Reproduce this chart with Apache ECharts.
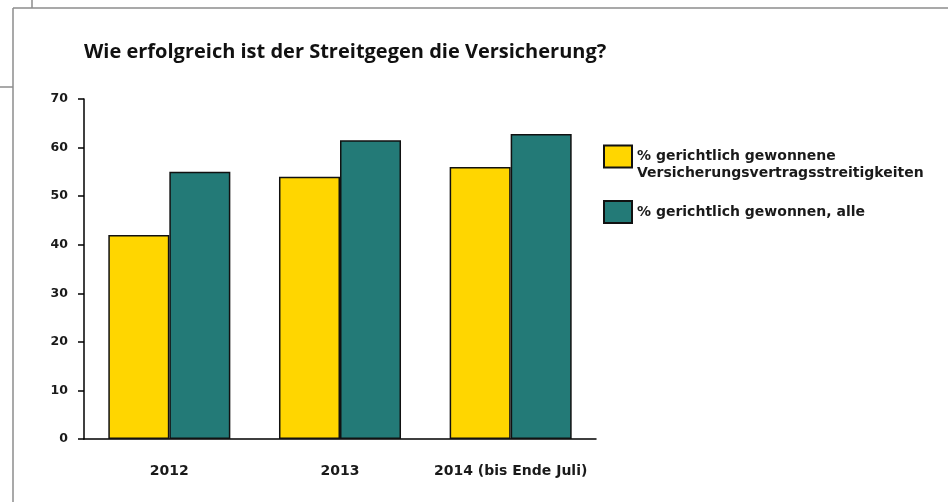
<!DOCTYPE html>
<html>
<head>
<meta charset="utf-8">
<script src="https://cdn.jsdelivr.net/npm/echarts@6/dist/echarts.min.js"></script>
<style>
  html, body { margin: 0; padding: 0; background: #fff; }
  #chart-container { width: 948px; height: 502px; }
</style>
</head>
<body>
<div id="chart-container"></div>
<script>
var categories = ['2012', '2013', '2014 (bis Ende Juli)'];
var seriesNames = ['% gerichtlich gewonnene\nVersicherungsvertragsstreitigkeiten', '% gerichtlich gewonnen, alle'];
var versicherungValues = [42, 54, 56];
var alleValues = [55, 61.5, 62.8];
var yTicks = [0, 10, 20, 30, 40, 50, 60, 70];

var myChart = echarts.init(document.getElementById('chart-container'));

var labelFont = 'DejaVu Sans';
var frameColor = '#8c8c8c';

// shared legend look, the first one gets an empty line on top so line 1 sits next to the box
var legendText = {
    fontFamily: labelFont,
    fontWeight: 'bold',
    fontSize: 14,
    color: '#1a1a1a',
    lineHeight: 17
};

option = {
    animation: false,
    title: {
        text: 'Wie erfolgreich ist der Streitgegen die Versicherung?',
        left: 79,
        top: 37,
        textStyle: {
            fontFamily: 'Open Sans',
            fontWeight: 'bold',
            fontSize: 20,
            color: '#111'
        }
    },
    legend: [
        {
            orient: 'vertical',
            left: 603,
            top: 131,
            padding: 0,
            icon: 'rect',
            itemWidth: 28,
            itemHeight: 22,
            itemStyle: { borderColor: '#111', borderWidth: 2 },
            data: [seriesNames[0]],
            formatter: function (name) { return '\n' + name; },
            textStyle: legendText
        },
        {
            orient: 'vertical',
            left: 603,
            top: 200,
            padding: 0,
            icon: 'rect',
            itemWidth: 28,
            itemHeight: 22,
            itemStyle: { borderColor: '#111', borderWidth: 2 },
            data: [seriesNames[1]],
            textStyle: legendText
        }
    ],
    grid: {
        left: 84,
        right: 352,
        top: 99,
        bottom: 63
    },
    xAxis: {
        type: 'category',
        data: categories,
        axisLine: { lineStyle: { color: '#000', width: 1.5 } },
        axisTick: { show: false },
        axisLabel: {
            interval: 0,
            margin: 25,
            fontFamily: labelFont,
            fontWeight: 'bold',
            fontSize: 14,
            color: '#1a1a1a'
        }
    },
    yAxis: {
        type: 'value',
        min: yTicks[0],
        max: yTicks[yTicks.length - 1],
        interval: 10,
        splitLine: { show: false },
        axisLine: { show: true, lineStyle: { color: '#000', width: 1.5 } },
        axisTick: { show: true, length: 6, lineStyle: { color: '#000', width: 1.5 } },
        axisLabel: {
            margin: 16,
            fontFamily: labelFont,
            fontWeight: 'bold',
            fontSize: 12.5,
            color: '#1a1a1a'
        }
    },
    series: [
        {
            name: seriesNames[0],
            type: 'bar',
            data: versicherungValues,
            barGap: '0%',
            barCategoryGap: '28.5%',
            itemStyle: { color: '#ffd600', borderColor: '#111', borderWidth: 1.5 }
        },
        {
            name: seriesNames[1],
            type: 'bar',
            data: alleValues,
            itemStyle: { color: '#237a77', borderColor: '#111', borderWidth: 1.5 }
        }
    ],
    graphic: [
        { type: 'line', shape: { x1: 13, y1: 8, x2: 13, y2: 502 }, style: { stroke: frameColor, lineWidth: 1.5 } },
        { type: 'line', shape: { x1: 13, y1: 8, x2: 948, y2: 8 }, style: { stroke: frameColor, lineWidth: 1.5 } },
        { type: 'line', shape: { x1: 32, y1: 0, x2: 32, y2: 8 }, style: { stroke: frameColor, lineWidth: 1.5 } },
        { type: 'line', shape: { x1: 0, y1: 87, x2: 13, y2: 87 }, style: { stroke: frameColor, lineWidth: 1.5 } }
    ]
};

myChart.setOption(option);
</script>
</body>
</html>
